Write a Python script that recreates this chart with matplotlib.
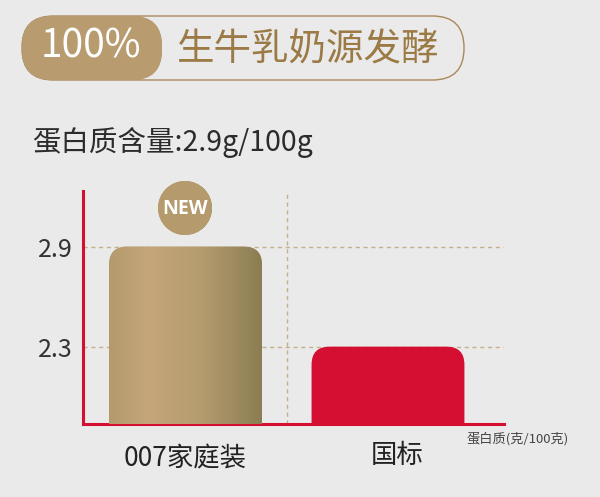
import numpy as np
import matplotlib
matplotlib.use("Agg")
import matplotlib.pyplot as plt
from matplotlib.colors import LinearSegmentedColormap
from matplotlib.patches import FancyBboxPatch, Circle
from matplotlib.transforms import ScaledTranslation

plt.rcParams["font.family"] = ["Noto Sans CJK SC", "DejaVu Sans"]

# --- data ---
categories = ["007家庭装", "国标"]
protein = [2.9, 2.3]
yticks = [2.3, 2.9]
ytick_labels = ["2.3", "2.9"]
badge_text = "100%"
title_text = "生牛乳奶源发酵"
subtitle = "蛋白质含量:2.9g/100g"
unit_label = "蛋白质(克/100克)"
new_label = "NEW"

BG = "#eaeaea"
RED = "#d40f32"
GOLD_TXT = "#9b7a45"
GRID = "#c4b08c"

cmap_bar = LinearSegmentedColormap.from_list(
    "bar", [(0, "#b39a6d"), (0.25, "#c5a67a"), (0.6, "#b59c6f"), (1, "#8b7d52")])
cmap_badge = LinearSegmentedColormap.from_list(
    "badge", [(0, "#c0a173"), (0.3, "#c6a67b"), (1, "#a08a5e")])
cmap_new = LinearSegmentedColormap.from_list(
    "new", [(0, "#c2a271"), (0.4, "#b49a6c"), (1, "#877850")])
ramp = np.linspace(0, 1, 256)[None, :]

W, H = 600, 497
fig = plt.figure(figsize=(W / 100, H / 100), dpi=100, facecolor=BG)

# main chart
ax = fig.add_axes([82.7 / W, 1 - 424.3 / H, (504 - 82.7) / W, (424.3 - 190.7) / H])
ax.set_facecolor(BG)
xlim = (-0.508, 1.573)
ylim = (1.834, 3.236)

x = np.arange(len(categories))
bars = ax.bar(x, protein, width=0.755)
pos = ax.get_position()
px_x = pos.width * W / (xlim[1] - xlim[0])
px_y = pos.height * H / (ylim[1] - ylim[0])
r = 18 / px_x
for i, rect in enumerate(bars):
    rect.set_visible(False)
    x0, w, h = rect.get_x(), rect.get_width(), rect.get_height()
    fc = RED if i == 1 else "#b59c6f"
    p = FancyBboxPatch((x0, 0), w, h, boxstyle=f"round,pad=0,rounding_size={r}",
                       mutation_aspect=px_x / px_y, fc=fc, ec="none", zorder=3)
    ax.add_patch(p)
    if i == 0:
        im = ax.imshow(ramp, cmap=cmap_bar, extent=(x0, x0 + w, 0, h),
                       aspect="auto", zorder=3.1)
        im.set_clip_path(p)

for v in yticks:
    ax.axhline(v, color=GRID, lw=1.0, dashes=(3, 2.6), zorder=1)
ax.axvline(0.5, color=GRID, lw=1.0, dashes=(3, 2.6), zorder=1)

ax.set_xlim(*xlim)
ax.set_ylim(*ylim)
ax.set_yticks(yticks, ytick_labels)
ax.set_xticks(x, categories)
ax.tick_params(axis="y", length=0, pad=7, labelsize=18, labelcolor="#333333")
ax.tick_params(axis="x", length=0, pad=15, labelsize=19, labelcolor="#222222")
# the second label sits a little right of its bar centre
lbl = ax.get_xticklabels()[1]
lbl.set_transform(lbl.get_transform() + ScaledTranslation(0.09, 0.03, fig.dpi_scale_trans))
for s in ["top", "right"]:
    ax.spines[s].set_visible(False)
for s in ["left", "bottom"]:
    ax.spines[s].set_color(RED)
    ax.spines[s].set_linewidth(2.2)

# overlay in pixel coords for header and badge
ov = fig.add_axes([0, 0, 1, 1], zorder=5)
ov.patch.set_alpha(0)
ov.axis("off")

outer = FancyBboxPatch((22, 16), 442, 64, boxstyle="round,pad=0,rounding_size=31.5",
                       fc="none", ec="#a8895a", lw=1.0)
ov.add_patch(outer)
left = FancyBboxPatch((22, 16), 140, 64, boxstyle="round,pad=0,rounding_size=30",
                      fc="#b89c70", ec="none")
ov.add_patch(left)
im = ov.imshow(ramp, cmap=cmap_badge, extent=(22, 162, 80, 16), aspect="auto")
im.set_clip_path(left)
ov.text(91, 47, badge_text, color="white", fontsize=28, ha="center", va="center")
ov.text(177, 50, title_text, color=GOLD_TXT, fontsize=27, ha="left", va="center")

ov.text(32, 142, subtitle, color="#2b2b2b", fontsize=20.5, ha="left", va="center")
ov.text(467, 439, unit_label, color="#454545", fontsize=9.5, ha="left", va="center")

circ = Circle((185, 208), 27, fc="#b49a6c", ec="none")
ov.add_patch(circ)
im = ov.imshow(ramp, cmap=cmap_new, extent=(158, 212, 235, 181), aspect="auto")
im.set_clip_path(circ)
ov.text(185, 209, new_label, color="white", fontsize=14, fontweight="bold",
        family="Open Sans", ha="center", va="center")

ov.set_xlim(0, W)
ov.set_ylim(H, 0)

fig.savefig("out.png", dpi=100, facecolor=BG)
